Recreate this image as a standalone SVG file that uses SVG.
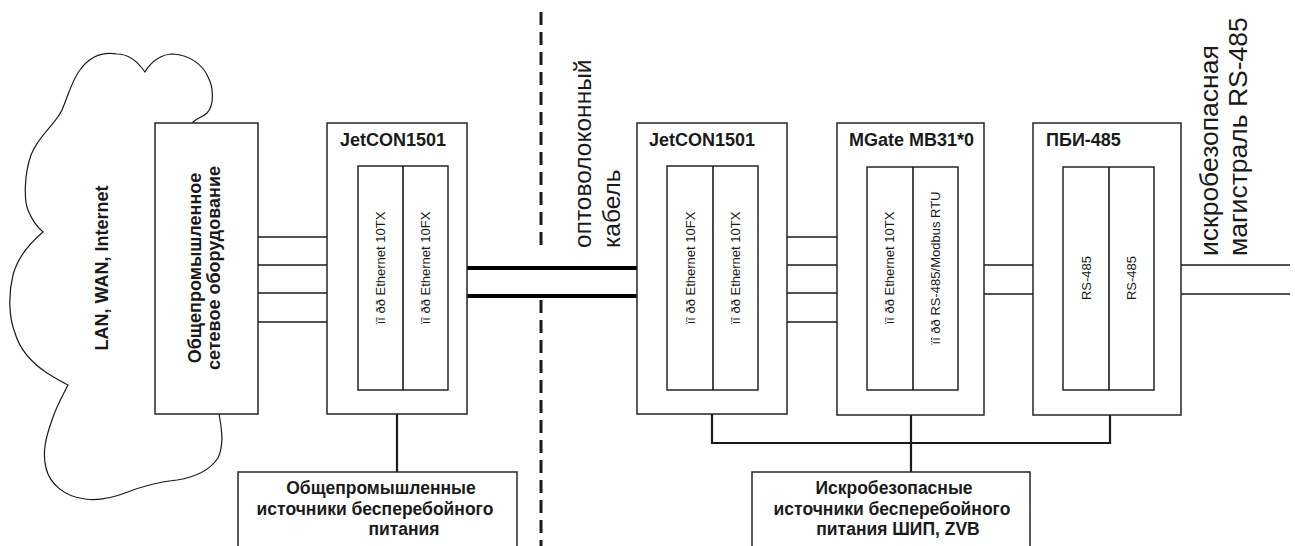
<svg xmlns="http://www.w3.org/2000/svg" width="1295" height="546" viewBox="0 0 1295 546">
<style>
.bx{fill:#fff;stroke:#262626;stroke-width:1.5}
.ln{fill:none;stroke:#1a1a1a;stroke-width:1.6}
.thick{fill:none;stroke:#000;stroke-width:4}
.bus{fill:none;stroke:#1a1a1a;stroke-width:2.2}
.dash{fill:none;stroke:#1a1a1a;stroke-width:3;stroke-dasharray:13 7}
.t{font-family:"Liberation Sans",Arial,sans-serif;fill:#1a1a1a}
.b18{font-size:18px;font-weight:bold}
.b17{font-size:17.5px;font-weight:bold}
.sm{font-size:13px}
.big{font-size:24.5px}
.big2{font-size:26.5px}
</style>
<rect width="1295" height="546" fill="#fff"/>

<g id="cloud">
<path class="ln" style="stroke-width:1.2" d="M193,122 C197,118 203,117 207,113 C214,106 214,88 208,77 C203,65 190,55 173,54 C163,54 152,60 145,72 C138,62 128,54 117,54 C104,52 90,56 80,70 C72,80 68,96 62,110 C55,125 38,136 31,155 C24,175 24,200 28,210 C32,220 37,227 43,232 C30,243 18,256 13,275 C8,295 9,318 15,333 C20,350 32,363 47,373 C55,378 62,382 68,385 C62,397 57,405 52,420 C46,437 42,452 46,468 C50,485 66,497 85,499 C100,501 112,498 125,493 C140,487 158,482 177,480 C196,477 210,470 218,458 C224,445 222,430 219,414 Z"/>
<text class="t b18" transform="translate(108,268) rotate(-90)" text-anchor="middle">LAN, WAN, Internet</text>
</g>

<g id="net-equipment">
<rect class="bx" x="155" y="123" width="103" height="291"/>
<text class="t b18" transform="translate(201,268) rotate(-90)" text-anchor="middle">Общепромышленное</text>
<text class="t b18" transform="translate(220,268) rotate(-90)" text-anchor="middle">сетевое оборудование</text>
</g>

<g id="connectors">
<line class="dash" x1="541" y1="12" x2="541" y2="247"/>
<line class="dash" x1="541" y1="300" x2="541" y2="546"/>
<path class="ln" d="M258,237H358M258,265H358M258,293H358M258,322H358"/>
<path class="thick" d="M448,268H667M448,296H667"/>
<path class="ln" d="M758,237H867M758,265H867M758,293H867M758,322H867"/>
<path class="ln" d="M958,265H1063M958,294H1063"/>
<path class="ln" d="M1181,265H1290M1181,294H1290"/>
<path class="bus" d="M397,414V472"/>
<path class="bus" d="M712,414V443H1110V415M911,415V472"/>
</g>

<g id="jetcon-left">
<rect class="bx" x="327" y="123" width="140" height="291"/>
<text class="t b18" x="340" y="146">JetCON1501</text>
<rect class="bx" x="358" y="166" width="90" height="224"/>
<line class="ln" x1="403" y1="166" x2="403" y2="390"/>
<text class="t sm" transform="translate(385,268) rotate(-90)" text-anchor="middle">ïî ðð Ethernet 10TX</text>
<text class="t sm" transform="translate(430,268) rotate(-90)" text-anchor="middle">ïî ðð Ethernet 10FX</text>
</g>

<g id="fiber-label">
<text class="t big" transform="translate(591,248) rotate(-90)">оптоволоконный</text>
<text class="t big" transform="translate(620,248) rotate(-90)">кабель</text>
</g>

<g id="jetcon-right">
<rect class="bx" x="637" y="123" width="150" height="291"/>
<text class="t b18" x="649" y="146">JetCON1501</text>
<rect class="bx" x="667" y="166" width="91" height="224"/>
<line class="ln" x1="713" y1="166" x2="713" y2="390"/>
<text class="t sm" transform="translate(695,268) rotate(-90)" text-anchor="middle">ïî ðð Ethernet 10FX</text>
<text class="t sm" transform="translate(740,268) rotate(-90)" text-anchor="middle">ïî ðð Ethernet 10TX</text>
</g>

<g id="mgate">
<rect class="bx" x="837" y="123" width="147" height="292"/>
<text class="t b18" x="849" y="146">MGate MB31*0</text>
<rect class="bx" x="867" y="167" width="91" height="223"/>
<line class="ln" x1="913" y1="167" x2="913" y2="390"/>
<text class="t sm" transform="translate(894,268) rotate(-90)" text-anchor="middle">ïî ðð Ethernet 10TX</text>
<text class="t sm" transform="translate(940,268) rotate(-90)" text-anchor="middle">ïî ðð RS-485/Modbus RTU</text>
</g>

<g id="pbi485">
<rect class="bx" x="1033" y="123" width="148" height="292"/>
<text class="t b18" x="1046" y="146">ПБИ-485</text>
<rect class="bx" x="1063" y="167" width="91" height="223"/>
<line class="ln" x1="1109" y1="167" x2="1109" y2="390"/>
<text class="t sm" transform="translate(1091,278) rotate(-90)" text-anchor="middle">RS-485</text>
<text class="t sm" transform="translate(1136,278) rotate(-90)" text-anchor="middle">RS-485</text>
</g>

<g id="rs485-label">
<text class="t big2" transform="translate(1218,256) rotate(-90)">искробезопасная</text>
<text class="t big2" transform="translate(1247,256) rotate(-90)">магистраль RS-485</text>
</g>

<g id="ups-general">
<rect class="bx" x="238" y="472" width="279" height="90"/>
<text class="t b17" x="381" y="494" text-anchor="middle">Общепромышленные</text>
<text class="t b17" x="375" y="515" text-anchor="middle">источники бесперебойного</text>
<text class="t b17" x="404" y="535" text-anchor="middle">питания</text>
</g>

<g id="ups-safe">
<rect class="bx" x="752" y="472" width="278" height="90"/>
<text class="t b17" x="894" y="494" text-anchor="middle">Искробезопасные</text>
<text class="t b17" x="892" y="515" text-anchor="middle">источники бесперебойного</text>
<text class="t b17" x="898" y="535" text-anchor="middle">питания ШИП, ZVB</text>
</g>
</svg>
